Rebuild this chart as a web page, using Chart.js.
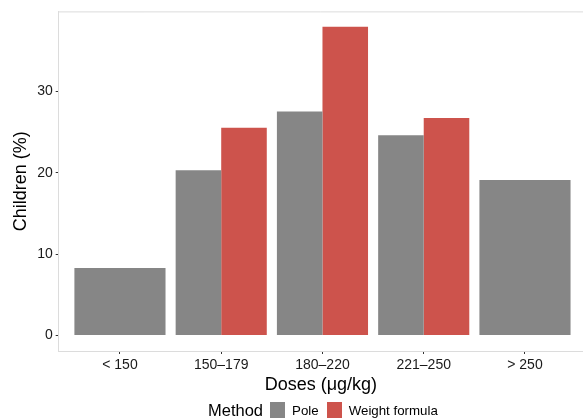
<!DOCTYPE html>
<html>
<head>
<meta charset="utf-8">
<script src="https://cdn.jsdelivr.net/npm/chart.js@4"></script>
<style>
    html, body { margin: 0; padding: 0; background: #fff; }
    #wrap { position: relative; width: 583px; height: 418px; overflow: hidden; }
    #legend {
        position: absolute; left: 208px; top: 402px; height: 17px;
        display: flex; align-items: center;
        font-family: "Liberation Sans", Arial, sans-serif; color: #000;
    }
    #legend .title { font-size: 16.5px; margin-right: 7px; }
    #legend .box { width: 15px; height: 17px; margin-right: 7px; }
    #legend .lab { font-size: 13.3px; margin-right: 8px; }
</style>
</head>
<body>
<div id="wrap">
    <canvas id="chart" width="583" height="418"></canvas>
    <div id="legend"></div>
</div>
<script>
const categories = ['< 150', '150–179', '180–220', '221–250', '> 250'];
const seriesNames = ['Pole', 'Weight formula'];
const poleValues = [8.3, 20.3, 27.5, 24.6, 19.1];
const weightValues = [null, 25.5, 37.9, 26.7, null];
const yTicks = [0, 10, 20, 30];
const colors = ['#868686', '#CD534C'];

const font = "'Liberation Sans', Arial, sans-serif";

function toPoints(values) {
    return values.map((v, i) => ({ x: i + 1, y: v }));
}

// ggplot-like panel outline on top
const panelTop = {
    id: 'panelTop',
    afterDraw(chart) {
        const { ctx, chartArea } = chart;
        ctx.save();
        ctx.strokeStyle = '#dcdcdc';
        ctx.lineWidth = 1;
        ctx.beginPath();
        ctx.moveTo(chartArea.left, chartArea.top + 0.5);
        ctx.lineTo(chartArea.right, chartArea.top + 0.5);
        ctx.stroke();
        ctx.restore();
    }
};

const ctx = document.getElementById('chart').getContext('2d');
const chart = new Chart(ctx, {
    type: 'bar',
    data: {
        datasets: [{
            label: seriesNames[0],
            data: toPoints(poleValues),
            backgroundColor: colors[0],
            borderWidth: 0
        }, {
            label: seriesNames[1],
            data: toPoints(weightValues),
            backgroundColor: colors[1],
            borderWidth: 0
        }]
    },
    options: {
        responsive: false,
        animation: false,
        skipNull: true,
        categoryPercentage: 0.9,
        barPercentage: 1.0,
        layout: { padding: { top: 10, right: 0, bottom: 22, left: 0 } },
        plugins: {
            legend: { display: false },
            tooltip: { enabled: false }
        },
        scales: {
            x: {
                type: 'linear',
                offset: false,
                min: 0.395,
                max: 5.573,
                afterBuildTicks: (scale) => {
                    scale.ticks = categories.map((c, i) => ({ value: i + 1 }));
                },
                afterFit: (scale) => { scale.height = 45; },
                grid: { offset: false, drawOnChartArea: false, drawTicks: true, tickLength: 3, tickColor: '#333' },
                border: { display: true, color: '#dcdcdc', width: 1 },
                ticks: {
                    autoSkip: false,
                    maxRotation: 0,
                    padding: 3,
                    color: '#1a1a1a',
                    font: { family: font, size: 14 },
                    callback: (v) => categories[v - 1]
                },
                title: {
                    display: true,
                    text: 'Doses (μg/kg)',
                    color: '#000',
                    padding: { top: 0, bottom: 0 },
                    font: { family: font, size: 18 }
                }
            },
            y: {
                min: -1.895,
                max: 39.795,
                afterBuildTicks: (scale) => {
                    scale.ticks = yTicks.map(v => ({ value: v }));
                },
                afterFit: (scale) => { scale.width = 58.7; },
                grid: { drawOnChartArea: false, drawTicks: true, tickLength: 3, tickColor: '#333' },
                border: { display: true, color: '#dcdcdc', width: 1 },
                ticks: {
                    padding: 3,
                    color: '#1a1a1a',
                    font: { family: font, size: 14 }
                },
                title: {
                    display: true,
                    text: 'Children (%)',
                    color: '#000',
                    padding: { top: 10, bottom: 0 },
                    font: { family: font, size: 18 }
                }
            }
        }
    },
    plugins: [panelTop]
});

// legend in ggplot style: title on the left, keys in a row
const legend = document.getElementById('legend');
const title = document.createElement('span');
title.className = 'title';
title.textContent = 'Method';
legend.appendChild(title);
chart.data.datasets.forEach((ds) => {
    const box = document.createElement('span');
    box.className = 'box';
    box.style.background = ds.backgroundColor;
    legend.appendChild(box);
    const lab = document.createElement('span');
    lab.className = 'lab';
    lab.textContent = ds.label;
    legend.appendChild(lab);
});
</script>
</body>
</html>
